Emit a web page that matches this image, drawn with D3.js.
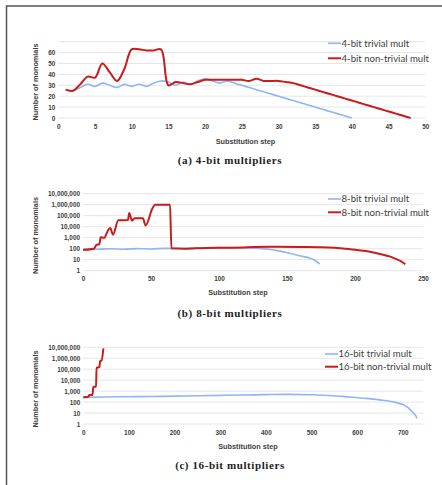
<!DOCTYPE html>
<html>
<head>
<meta charset="utf-8">
<script src="https://cdn.jsdelivr.net/npm/d3@7"></script>
<style>
body { margin: 0; background: #fff; }
svg { display: block; }
.tick text { font-family: "Liberation Sans", Arial, sans-serif; font-weight: bold; font-size: 6.4px; fill: #404040; }
.axis-title { font-family: "Liberation Sans", Arial, sans-serif; font-weight: bold; font-size: 7.3px; fill: #404040; }
.legend text { font-family: Lato, "Liberation Sans", sans-serif; font-size: 9.6px; fill: #404040; }
.caption { font-family: "Liberation Serif", "DejaVu Serif", serif; font-weight: bold; font-size: 11px; fill: #222; letter-spacing: 0.6px; }
</style>
</head>
<body>
<svg id="fig" width="442" height="485"></svg>
<script>
// ---- data ----
// (a) 4-bit
var steps4Triv = d3.range(1, 41);
var vals4Triv = [26, 25, 28, 31, 29, 32, 30, 28, 31, 29, 31, 29, 32, 34, 33, 30, 33, 31, 34, 36,
                 34, 32, 34, 32, 30, 28, 26, 24, 22, 20, 18, 16, 14, 12, 10, 8, 6, 4, 2, 0];
var steps4Non = d3.range(1, 49);
var vals4Non = [26, 25, 31, 38, 37, 50, 42, 34, 45, 63, 63, 62, 62, 63, 30, 33, 32, 31, 33, 35,
                35, 35, 35, 35, 35, 34, 36, 34, 34, 34, 33, 32, 30, 28, 26, 24, 22, 20, 18, 16,
                14, 12, 10, 8, 6, 4, 2, 0];

// (b) 8-bit
var steps8Triv = [0, 10, 20, 30, 40, 50, 60, 70, 80, 90, 100, 110, 120, 130, 137, 145, 152, 160, 167, 171, 174];
var vals8Triv = [80, 88, 98, 90, 102, 95, 108, 104, 112, 120, 125, 122, 118, 108, 89, 60, 38, 22, 13.5, 8, 4];
var steps8Non = [0, 8, 10, 12, 13, 16, 17, 20, 22, 26, 33, 34, 36, 38, 44, 46, 51, 53, 64, 65,
                 75, 90, 110, 137, 160, 175, 195, 211, 220, 226, 230, 234, 237];
var vals8Non = [80, 100, 230, 250, 1100, 1000, 2000, 7600, 1900, 38000, 40000, 175000, 35000, 60000, 60000, 13000, 440000, 1000000, 1000000, 110,
                100, 118, 125, 150, 142, 134, 95, 53, 30, 19, 12, 7, 3.8];

// (c) 16-bit
var steps16Triv = [0, 50, 100, 150, 200, 250, 300, 350, 400, 450, 500, 547, 580, 620, 650, 678, 700, 711, 722, 728, 731];
var vals16Triv = [260, 295, 310, 320, 350, 380, 410, 440, 480, 510, 470, 380, 300, 220, 160, 108, 60, 33, 11, 6, 3.3];
var steps16Non = [0, 11, 13, 20, 22, 28, 29, 35, 37, 40, 44];
var vals16Non = [280, 300, 440, 450, 2500, 2500, 140000, 150000, 560000, 600000, 8000000];

var logTicks = [1, 10, 100, 1000, 10000, 100000, 1000000, 10000000];

var blue = "#8fb5f6", red = "#cc1a1a";

var svg = d3.select("#fig");

// frame around the figure
svg.append("path")
  .attr("d", "M6.5,485 V6 H442")
  .attr("fill", "none")
  .attr("stroke", "#555")
  .attr("stroke-width", 1.5);

var panels = [
  {
    x: d3.scaleLinear().domain([0, 50]).range([58.3, 425.3]),
    y: d3.scaleLinear().domain([0, 70]).range([118, 41.7]),
    xTicks: d3.range(0, 51, 5), yTicks: d3.range(0, 61, 10), grid: d3.range(0, 71, 10),
    fmt: d3.format("d"), curve: d3.curveCatmullRom,
    series: [
      {name: "4-bit trivial mult", xs: steps4Triv, ys: vals4Triv, color: blue, w: 1.6},
      {name: "4-bit non-trivial mult", xs: steps4Non, ys: vals4Non, color: red, w: 2}
    ],
    legend: {x: 328, y: 43.3, gap: 15},
    yTitle: {x: 37.5, y: 82}, xTitle: {x: 245.5, y: 144}, caption: {x: 230, y: 164.3, text: "(a) 4-bit multipliers"}
  },
  {
    x: d3.scaleLinear().domain([0, 250]).range([83, 423]),
    y: d3.scaleLog().domain([1, 1e7]).range([270.7, 193.7]),
    xTicks: d3.range(0, 251, 50), yTicks: logTicks, grid: logTicks,
    fmt: d3.format(","), curve: d3.curveMonotoneX,
    series: [
      {name: "8-bit trivial mult", xs: steps8Triv, ys: vals8Triv, color: blue, w: 1.6},
      {name: "8-bit non-trivial mult", xs: steps8Non, ys: vals8Non, color: red, w: 2}
    ],
    legend: {x: 328, y: 199, gap: 13.3},
    yTitle: {x: 37.5, y: 235.5}, xTitle: {x: 238, y: 295}, caption: {x: 230, y: 317.3, text: "(b) 8-bit multipliers"}
  },
  {
    x: d3.scaleLinear().domain([0, 745]).range([83.3, 423.3]),
    y: d3.scaleLog().domain([1, 1e7]).range([424, 347.3]),
    xTicks: d3.range(0, 701, 100), yTicks: logTicks, grid: logTicks,
    fmt: d3.format(","), curve: d3.curveMonotoneX,
    series: [
      {name: "16-bit trivial mult", xs: steps16Triv, ys: vals16Triv, color: blue, w: 1.6},
      {name: "16-bit non-trivial mult", xs: steps16Non, ys: vals16Non, color: red, w: 2}
    ],
    legend: {x: 325, y: 354, gap: 12.7},
    yTitle: {x: 37.5, y: 389}, xTitle: {x: 248, y: 449}, caption: {x: 230, y: 469, text: "(c) 16-bit multipliers"}
  }
];

panels.forEach(function(p) {
  var g = svg.append("g");
  var x0 = p.x.range()[0], x1 = p.x.range()[1];
  var yBottom = p.y.range()[0];

  // gridlines
  g.selectAll(".grid")
    .data(p.grid)
    .enter().append("line")
    .attr("x1", x0).attr("x2", x1)
    .attr("y1", function(d) { return p.y(d); })
    .attr("y2", function(d) { return p.y(d); })
    .attr("stroke", "#e3e3e3")
    .attr("stroke-width", 0.9);

  // axes without lines
  var xAxis = g.append("g")
    .attr("transform", "translate(0," + yBottom + ")")
    .call(d3.axisBottom(p.x).tickValues(p.xTicks).tickSize(0).tickPadding(6).tickFormat(p.fmt));
  xAxis.select(".domain").remove();

  var yAxis = g.append("g")
    .attr("transform", "translate(" + (x0 - 3) + ",0)")
    .call(d3.axisLeft(p.y).tickValues(p.yTicks).tickSize(0).tickPadding(0).tickFormat(p.fmt));
  yAxis.select(".domain").remove();

  // lines
  p.series.forEach(function(s) {
    var pts = s.xs.map(function(v, i) { return [v, s.ys[i]]; });
    var line = d3.line()
      .x(function(d) { return p.x(d[0]); })
      .y(function(d) { return p.y(d[1]); })
      .curve(p.curve);
    g.append("path")
      .datum(pts)
      .attr("fill", "none")
      .attr("stroke", s.color)
      .attr("stroke-width", s.w)
      .attr("stroke-linejoin", "round")
      .attr("d", line);
  });

  // legend
  var leg = g.append("g").attr("class", "legend");
  p.series.forEach(function(s, i) {
    var yy = p.legend.y + i * p.legend.gap;
    leg.append("line")
      .attr("x1", p.legend.x).attr("x2", p.legend.x + 13)
      .attr("y1", yy).attr("y2", yy)
      .attr("stroke", s.color).attr("stroke-width", s.w);
    leg.append("text")
      .attr("x", p.legend.x + 13.5).attr("y", yy)
      .attr("dy", "0.35em")
      .text(s.name);
  });

  // titles
  g.append("text")
    .attr("class", "axis-title")
    .attr("text-anchor", "middle")
    .attr("transform", "translate(" + p.yTitle.x + "," + p.yTitle.y + ") rotate(-90)")
    .text("Number of monomials");
  g.append("text")
    .attr("class", "axis-title")
    .attr("text-anchor", "middle")
    .attr("x", p.xTitle.x).attr("y", p.xTitle.y)
    .text("Substitution step");
  g.append("text")
    .attr("class", "caption")
    .attr("text-anchor", "middle")
    .attr("x", p.caption.x).attr("y", p.caption.y)
    .text(p.caption.text);
});
</script>
</body>
</html>
